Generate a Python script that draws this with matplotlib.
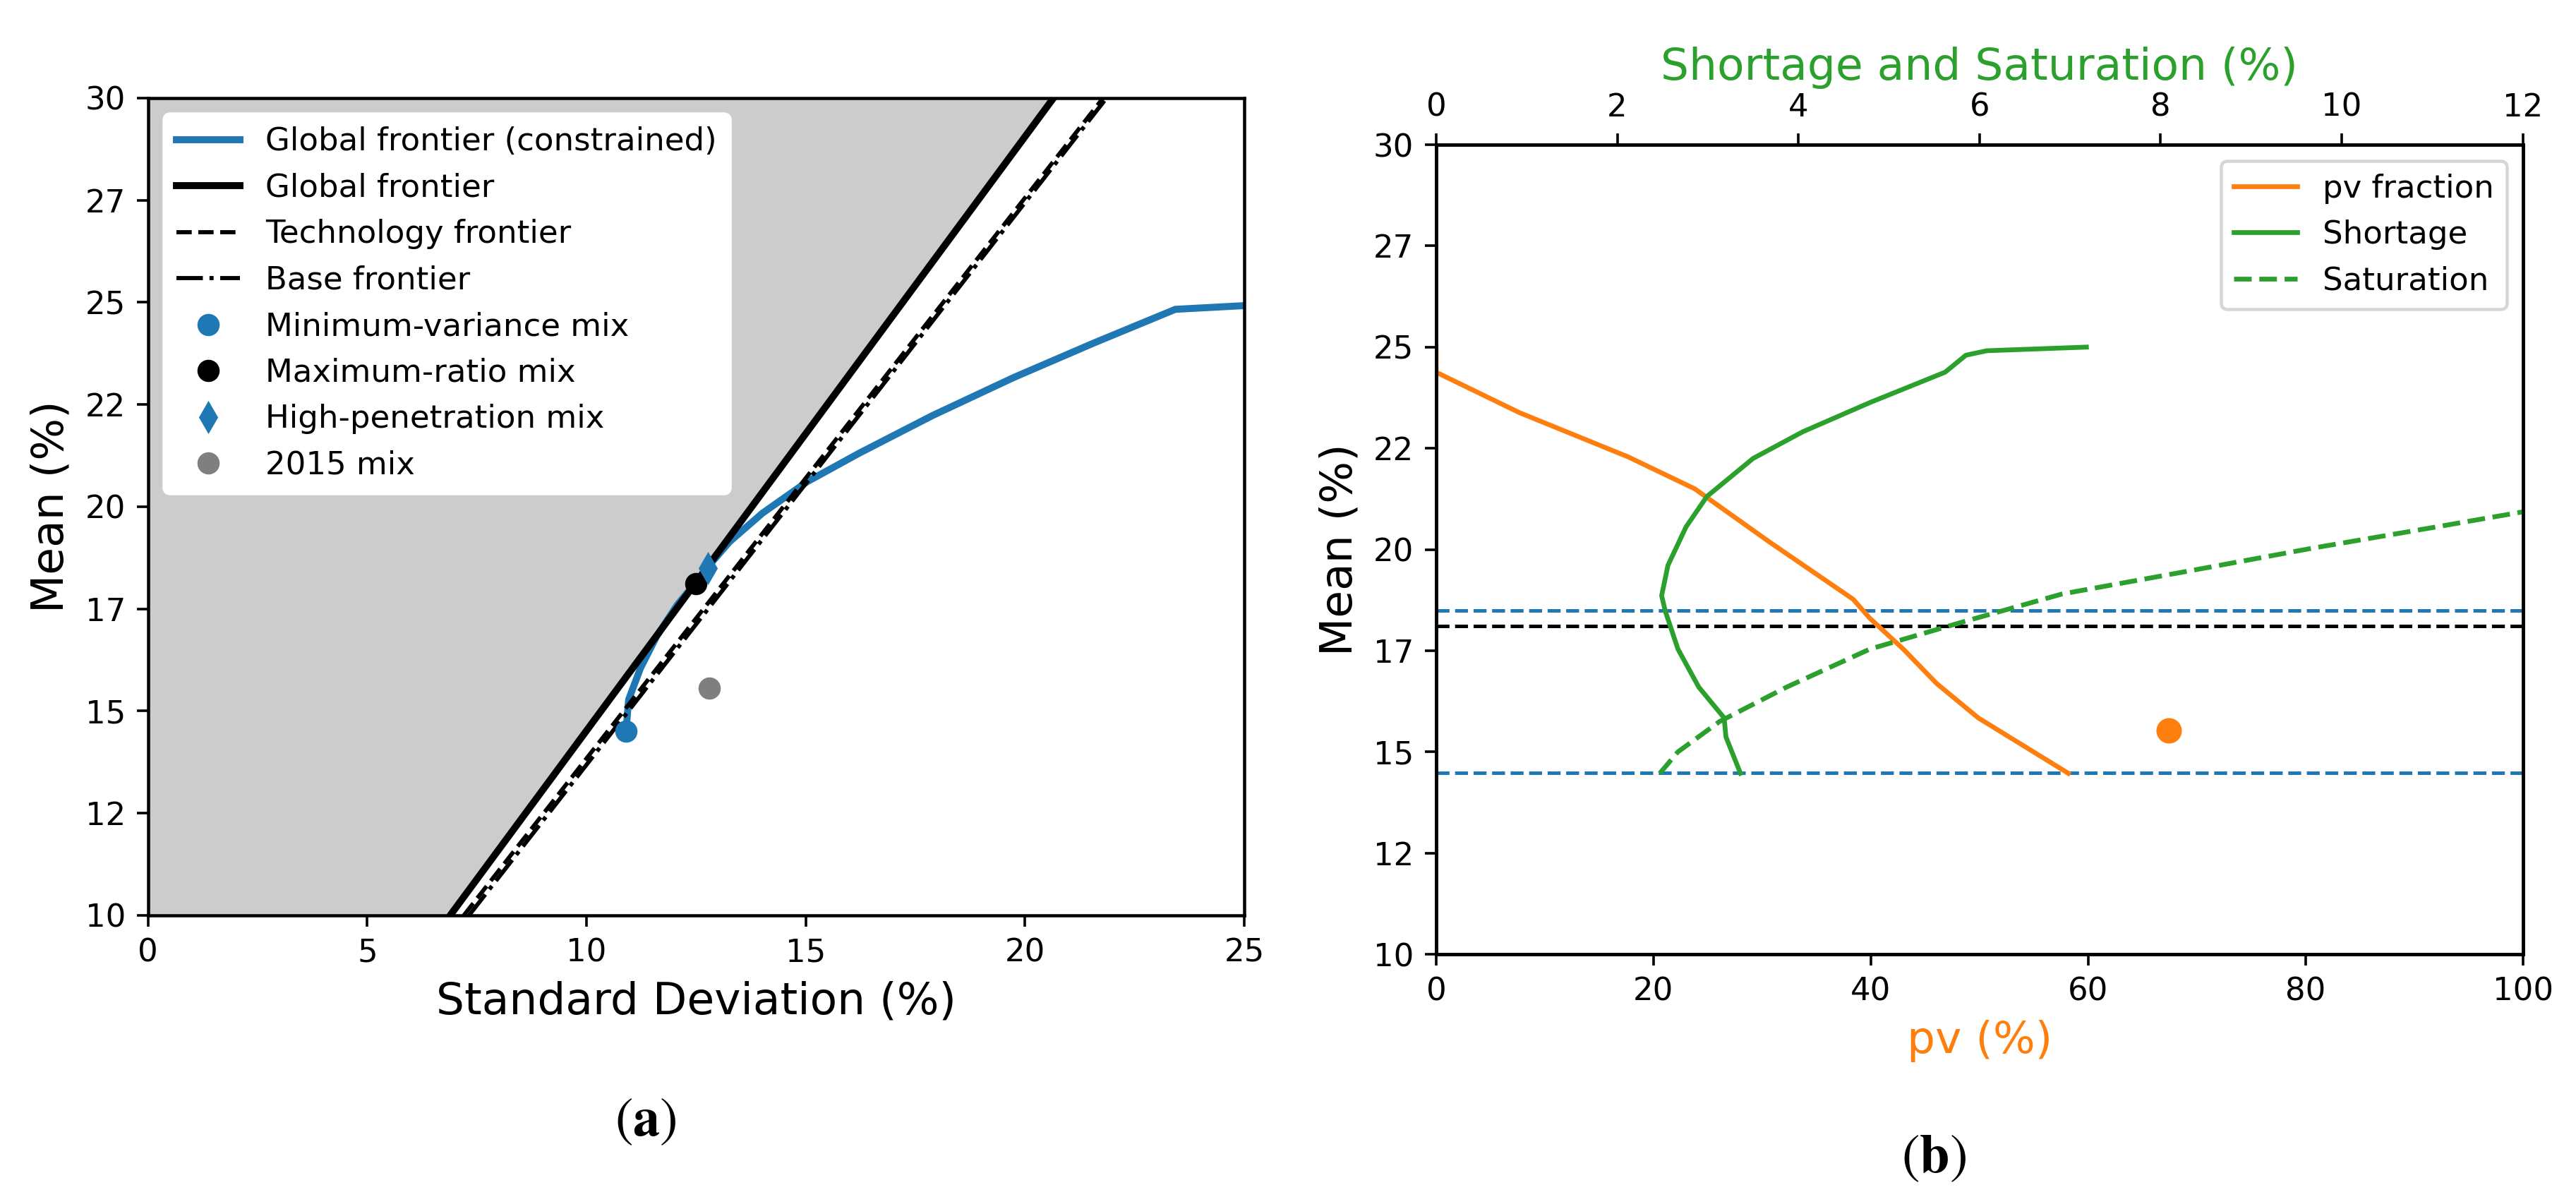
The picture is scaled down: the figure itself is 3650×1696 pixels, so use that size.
import numpy as np
import matplotlib
matplotlib.use("Agg")
import matplotlib.pyplot as plt

plt.rcParams['font.family'] = 'DejaVu Sans'
plt.rcParams['mathtext.fontset'] = 'stix'
plt.rcParams['axes.linewidth'] = 1.0

# ---- panel (a): frontiers, mean vs standard deviation (%)
global_sd = [6.89, 20.65]
global_mean = [10.0, 30.0]
tech_sd = [7.20, 21.78]
tech_mean = [10.0, 30.0]
base_sd = [7.32, 21.86]
base_mean = [10.0, 30.0]

constrained_sd = [10.90, 10.96, 11.23, 11.60, 12.07, 12.49, 12.77, 13.26, 14.01,
                  15.03, 16.22, 17.89, 19.74, 21.58, 23.43, 25.0, 25.5]
constrained_mean = [14.51, 15.28, 16.05, 16.83, 17.60, 18.14, 18.53, 19.14, 19.84,
                    20.61, 21.31, 22.23, 23.16, 24.01, 24.83, 24.92, 24.93]

minvar_pt = (10.90, 14.50)
maxratio_pt = (12.49, 18.11)
highpen_pt = (12.77, 18.50)
mix2015_pt = (12.80, 15.56)

# ---- panel (b): pv share and shortage / saturation along the frontier
pv_frac = [0.0, 0.0, 7.67, 17.65, 23.79, 30.70, 38.37, 39.91, 42.98, 46.05, 49.88, 58.17]
pv_mean = [25.0, 24.38, 23.38, 22.29, 21.50, 20.18, 18.77, 18.30, 17.54, 16.69, 15.84, 14.47]

shortage = [3.36, 3.20, 3.18, 2.90, 2.67, 2.53, 2.49, 2.56, 2.76, 2.99, 3.50, 4.05,
            4.79, 5.62, 5.85, 6.08, 7.18]
shortage_mean = [14.47, 15.37, 15.84, 16.60, 17.54, 18.48, 18.86, 19.61, 20.56, 21.31,
                 22.25, 22.91, 23.63, 24.38, 24.80, 24.91, 25.0]

saturation = [2.47, 2.67, 3.13, 3.87, 4.79, 5.80, 6.91, 8.29, 9.67, 11.05, 12.0]
saturation_mean = [14.47, 15.0, 15.75, 16.60, 17.54, 18.20, 18.90, 19.46, 20.03, 20.56, 20.93]

pv_2015 = 67.4
mean_2015 = 15.52
level_minvar = 14.49
level_maxratio = 18.11
level_highpen = 18.50

mean_ticks = np.linspace(10, 30, 9)
mean_labels = [str(int(t)) for t in mean_ticks]

dpi = 324
fig = plt.figure(figsize=(3650 / dpi, 1696 / dpi), dpi=dpi)

# ---------------- (a)
ax = fig.add_axes([0.0575, 0.2353, 0.4255, 0.6828])
ax.fill_betweenx(global_mean, 0, global_sd, color='0.8', linewidth=0)
ax.plot(constrained_sd, constrained_mean, color='tab:blue', lw=2.2,
        label='Global frontier (constrained)')
ax.plot(global_sd, global_mean, color='black', lw=2.2, label='Global frontier')
ax.plot(tech_sd, tech_mean, color='black', lw=1.3, ls='--', label='Technology frontier')
ax.plot(base_sd, base_mean, color='black', lw=1.3, ls='-.', label='Base frontier')
ax.plot(*minvar_pt, 'o', color='tab:blue', ms=6, label='Minimum-variance mix')
ax.plot(*maxratio_pt, 'o', color='black', ms=6, label='Maximum-ratio mix')
ax.plot(*highpen_pt, 'd', color='tab:blue', ms=6, label='High-penetration mix')
ax.plot(*mix2015_pt, 'o', color='tab:gray', ms=6, label='2015 mix')
ax.set_xlim(0, 25)
ax.set_ylim(10, 30)
ax.set_yticks(mean_ticks)
ax.set_yticklabels(mean_labels)
ax.set_xlabel('Standard Deviation (%)', fontsize=14)
ax.set_ylabel('Mean (%)', fontsize=14)
ax.legend(loc='upper left', fontsize=10, framealpha=1.0, edgecolor='white')

# ---------------- (b)
bx = fig.add_axes([0.5575, 0.2028, 0.4219, 0.6763])
bx.axhline(level_highpen, color='tab:blue', lw=1.1, ls='--')
bx.axhline(level_maxratio, color='black', lw=1.1, ls='--')
bx.axhline(level_minvar, color='tab:blue', lw=1.1, ls='--')
l_pv, = bx.plot(pv_frac, pv_mean, color='tab:orange', lw=1.5, label='pv fraction')
bx.plot(pv_2015, mean_2015, 'o', color='tab:orange', ms=7)
bx.set_xlim(0, 100)
bx.set_ylim(10, 30)
bx.set_yticks(mean_ticks)
bx.set_yticklabels(mean_labels)
bx.set_xlabel('pv (%)', fontsize=14, color='tab:orange')
bx.set_ylabel('Mean (%)', fontsize=14)

tx = bx.twiny()
l_sh, = tx.plot(shortage, shortage_mean, color='tab:green', lw=1.5, label='Shortage')
l_sa, = tx.plot(saturation, saturation_mean, color='tab:green', lw=1.5, ls='--',
                label='Saturation')
tx.set_xlim(0, 12)
tx.set_xticks(np.arange(0, 13, 2))
tx.set_xlabel('Shortage and Saturation (%)', fontsize=14, color='tab:green')
tx.legend(handles=[l_pv, l_sh, l_sa], loc='upper right', fontsize=10)

fig.text(0.2507, 0.0637, r'$(\mathbf{a})$', ha='center', va='center', fontsize=17)
fig.text(0.7507, 0.033, r'$(\mathbf{b})$', ha='center', va='center', fontsize=17)

fig.savefig('out.png', dpi=dpi)
